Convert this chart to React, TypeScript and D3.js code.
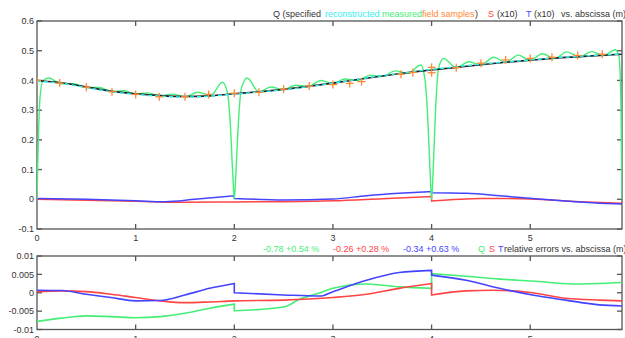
import React from "react";
import * as d3 from "d3";

// ---- top panel data ----
const specX = [0, 0.25, 0.5, 0.75, 1.0, 1.25, 1.5, 1.75, 2.0, 2.25, 2.5, 2.75, 3.0, 3.25, 3.5, 3.75, 4.0, 4.25, 4.5, 4.75, 5.0, 5.25, 5.5, 5.75, 5.93];
const specY = [0.4, 0.392, 0.378, 0.364, 0.355, 0.349, 0.346, 0.348, 0.355, 0.362, 0.37, 0.38, 0.391, 0.403, 0.415, 0.426, 0.435, 0.444, 0.453, 0.461, 0.468, 0.475, 0.48, 0.485, 0.488];
const reconY = [0.397, 0.39, 0.376, 0.362, 0.353, 0.347, 0.344, 0.347, 0.354, 0.361, 0.369, 0.379, 0.391, 0.404, 0.416, 0.427, 0.437, 0.446, 0.455, 0.462, 0.469, 0.476, 0.481, 0.486, 0.489];

const measuredX = [0, 0.01, 0.03, 0.06, 0.12, 0.24, 0.37, 0.5, 0.63, 0.76, 0.88, 1.0, 1.12, 1.25, 1.37, 1.5, 1.63, 1.76, 1.88, 1.93, 1.96, 1.985, 2.0, 2.015, 2.04, 2.07, 2.13, 2.25, 2.37, 2.5, 2.62, 2.75, 2.88, 3.0, 3.12, 3.25, 3.38, 3.5, 3.63, 3.76, 3.89, 3.93, 3.96, 3.985, 4.0, 4.015, 4.04, 4.07, 4.12, 4.25, 4.38, 4.5, 4.63, 4.75, 4.88, 5.0, 5.12, 5.25, 5.37, 5.5, 5.62, 5.75, 5.86, 5.9, 5.92, 5.93];
const measuredY = [0, 0.15, 0.34, 0.4, 0.408, 0.389, 0.389, 0.376, 0.376, 0.362, 0.366, 0.354, 0.358, 0.348, 0.354, 0.345, 0.36, 0.349, 0.394, 0.36, 0.25, 0.08, 0, 0.08, 0.25, 0.37, 0.408, 0.361, 0.378, 0.369, 0.384, 0.38, 0.4, 0.389, 0.405, 0.4, 0.418, 0.413, 0.432, 0.424, 0.452, 0.41, 0.28, 0.09, 0, 0.09, 0.3, 0.44, 0.474, 0.443, 0.463, 0.452, 0.478, 0.461, 0.485, 0.467, 0.49, 0.474, 0.496, 0.479, 0.497, 0.484, 0.503, 0.48, 0.3, 0];

const sampleX = [0, 0.23, 0.5, 0.76, 1.0, 1.24, 1.5, 1.74, 2.0, 2.25, 2.5, 2.76, 3.0, 3.17, 3.29, 3.69, 3.81, 4.0, 4.0, 4.25, 4.5, 4.75, 5.0, 5.22, 5.48, 5.73];
const sampleY = [0.4, 0.391, 0.377, 0.362, 0.353, 0.345, 0.345, 0.353, 0.357, 0.36, 0.371, 0.381, 0.386, 0.39, 0.396, 0.421, 0.427, 0.444, 0.426, 0.443, 0.458, 0.469, 0.474, 0.478, 0.484, 0.488];

// S (x10) and T (x10)
const sTopX = [0, 0.5, 1.0, 1.5, 2.0, 2.5, 3.0, 3.5, 4.0, 4.0, 4.5, 5.0, 5.5, 5.93];
const sTopY = [0, -0.003, -0.007, -0.01, -0.009, -0.008, -0.005, 0.002, 0.009, -0.006, 0.003, 0.001, -0.008, -0.013];
const tTopX = [0, 0.5, 1.0, 1.3, 1.6, 2.0, 2.0, 2.5, 3.0, 3.34, 3.67, 4.0, 4.0, 4.35, 4.69, 5.02, 5.36, 5.7, 5.93];
const tTopY = [0.003, 0.0, -0.005, -0.008, 0.0, 0.012, 0.003, -0.002, 0.001, 0.012, 0.02, 0.026, 0.022, 0.02, 0.012, 0.003, -0.006, -0.013, -0.016];

// ---- bottom panel: relative errors ----
const qErrX = [0, 0.25, 0.5, 0.75, 1.0, 1.25, 1.5, 1.75, 2.0, 2.0, 2.5, 2.66, 2.87, 3.0, 3.34, 3.67, 4.0, 4.0, 4.35, 4.69, 5.02, 5.43, 5.93];
const qErrY = [-0.0078, -0.0069, -0.0063, -0.0065, -0.0068, -0.0065, -0.0056, -0.0042, -0.0031, -0.0049, -0.0039, -0.0018, 0.0, 0.0012, 0.0024, 0.0016, 0.0012, 0.0052, 0.0045, 0.0037, 0.0032, 0.0024, 0.0028];
const sErrX = [0, 0.25, 0.5, 0.75, 1.0, 1.25, 1.5, 1.75, 2.0, 2.5, 3.0, 3.34, 3.67, 4.0, 4.0, 4.35, 4.62, 5.02, 5.36, 5.7, 5.93];
const sErrY = [0.0003, 0.0005, 0.0003, -0.0004, -0.0013, -0.0022, -0.0027, -0.0025, -0.0022, -0.002, -0.0013, -0.0004, 0.0012, 0.0025, -0.0006, 0.0005, 0.0007, 0.0, -0.0015, -0.002, -0.0022];
const tErrX = [0, 0.25, 0.5, 0.75, 1.0, 1.25, 1.5, 1.75, 2.0, 2.0, 2.5, 2.87, 3.0, 3.34, 3.67, 4.0, 4.0, 4.35, 4.69, 5.02, 5.36, 5.7, 5.93];
const tErrY = [0.0007, 0.0006, -0.0004, -0.0013, -0.0022, -0.0021, -0.0006, 0.0012, 0.0025, 0.0, -0.0006, -0.0009, 0.0003, 0.0034, 0.0055, 0.0061, 0.0048, 0.0034, 0.0012, -0.0006, -0.002, -0.0033, -0.0036];

const xTicks = [0, 1, 2, 3, 4, 5];
const topYTicks = [-0.1, 0, 0.1, 0.2, 0.3, 0.4, 0.5, 0.6];
const topYLabels = ["-0.1", "0", "0.1", "0.2", "0.3", "0.4", "0.5", "0.6"];
const botYTicks = [-0.01, -0.005, 0, 0.005, 0.01];
const botYLabels = ["-0.01", "-0.005", "0", "0.005", "0.01"];

const C = {
  frame: "#555",
  text: "#333",
  cyan: "#33eeee",
  green: "#44ee77",
  orange: "#ff8833",
  red: "#ff4444",
  blue: "#4444ff",
};
const FONT = "'Liberation Sans', Arial, sans-serif";

const L = 37, R = 622;
const x = d3.scaleLinear().domain([0, 5.93]).range([L, R]);
const yTop = d3.scaleLinear().domain([-0.1, 0.6]).range([229, 21]);
const yBot = d3.scaleLinear().domain([-0.01, 0.01]).range([329.5, 256]);

// builds a path that may contain vertical jumps (repeated x values)
function jumpPath(xs: number[], ys: number[], y: d3.ScaleLinear<number, number>) {
  const segs: [number, number][][] = [[]];
  xs.forEach((v, i) => {
    if (i > 0 && v === xs[i - 1]) segs.push([]);
    segs[segs.length - 1].push([v, ys[i]]);
  });
  const line = d3.line<[number, number]>()
    .x(d => x(d[0]))
    .y(d => y(d[1]))
    .curve(d3.curveMonotoneX);
  return segs.map((s, i) => {
    const p = line(s) || "";
    return i === 0 ? p : p.replace(/^M/, "L");
  }).join("");
}

function Frame({ y, top, bottom, ticks, labels }: any) {
  return (
    <g>
      <rect x={L} y={top} width={R - L} height={bottom - top} fill="none" stroke={C.frame} strokeWidth={1.3} />
      {xTicks.slice(1).map(t => (
        <g key={t}>
          <line x1={x(t)} x2={x(t)} y1={top} y2={top + 5} stroke={C.frame} strokeWidth={1.3} />
          <line x1={x(t)} x2={x(t)} y1={bottom} y2={bottom - 5} stroke={C.frame} strokeWidth={1.3} />
        </g>
      ))}
      {ticks.map((t: number, i: number) => (
        <g key={i}>
          <line x1={L} x2={L + 5} y1={y(t)} y2={y(t)} stroke={C.frame} strokeWidth={1.3} />
          <line x1={R} x2={R - 5} y1={y(t)} y2={y(t)} stroke={C.frame} strokeWidth={1.3} />
          <text x={34} y={y(t)} dy="0.35em" textAnchor="end" fontSize={9} fill={C.text} fontFamily={FONT}>{labels[i]}</text>
        </g>
      ))}
      {xTicks.map(t => (
        <text key={t} x={x(t)} y={bottom + 12} textAnchor="middle" fontSize={9} fill={C.text} fontFamily={FONT}>{t}</text>
      ))}
    </g>
  );
}

export default function App() {
  const specLine = d3.line<number>().x((_, i) => x(specX[i])).y(d => yTop(d)).curve(d3.curveMonotoneX);
  const measLine = d3.line<number>().x((_, i) => x(measuredX[i])).y(d => yTop(d)).curve(d3.curveMonotoneX);
  const t = { fontSize: 9, fontFamily: FONT };
  return (
    <svg width={625} height={338} style={{ position: "fixed", left: 0, top: 0, background: "#fff" }}>
      <defs>
        <clipPath id="cTop"><rect x={L} y={21} width={R - L} height={208} /></clipPath>
        <clipPath id="cBot"><rect x={L} y={256} width={R - L} height={73.5} /></clipPath>
      </defs>

      {/* titles */}
      <text y={17} {...t} fill={C.text}>
        <tspan x={273}>Q (specified</tspan>
        <tspan x={325} fill={C.cyan}>reconstructed</tspan>
        <tspan x={382} fill={C.green}>measured</tspan>
        <tspan x={422} fill={C.orange}>field samples</tspan>
        <tspan x={475}>)</tspan>
        <tspan x={488} fill={C.red}>S</tspan>
        <tspan x={497}>(x10)</tspan>
        <tspan x={526} fill={C.blue}>T</tspan>
        <tspan x={534}>(x10)</tspan>
        <tspan x={561}>vs. abscissa (m)</tspan>
      </text>
      <text y={252} {...t} fill={C.text}>
        <tspan x={263} fill={C.green}>-0.78 +0.54  %</tspan>
        <tspan x={333} fill={C.red}>-0.26 +0.28  %</tspan>
        <tspan x={403} fill={C.blue}>-0.34 +0.63  %</tspan>
        <tspan x={478} fill={C.green}>Q</tspan>
        <tspan x={489} fill={C.red}>S</tspan>
        <tspan x={498} fill={C.blue}>T</tspan>
        <tspan x={504}>relative errors vs. abscissa (m)</tspan>
      </text>

      <Frame y={yTop} top={21} bottom={229} ticks={topYTicks} labels={topYLabels} />
      <Frame y={yBot} top={256} bottom={329.5} ticks={botYTicks} labels={botYLabels} />

      <g clipPath="url(#cTop)" fill="none">
        <path d={jumpPath(sTopX, sTopY, yTop)} stroke={C.red} strokeWidth={1.5} />
        <path d={jumpPath(tTopX, tTopY, yTop)} stroke={C.blue} strokeWidth={1.5} />
        <path d={measLine(measuredY) || ""} stroke={C.green} strokeWidth={1.4} />
        <path d={specLine(specY) || ""} stroke="#222" strokeWidth={1.6} />
        <path d={specLine(reconY) || ""} stroke={C.cyan} strokeWidth={1.5} strokeDasharray="4,3" />
        {sampleX.map((sx, i) => (
          <g key={i} stroke={C.orange} strokeWidth={1.3}>
            <line x1={x(sx) - 4} x2={x(sx) + 4} y1={yTop(sampleY[i])} y2={yTop(sampleY[i])} />
            <line x1={x(sx)} x2={x(sx)} y1={yTop(sampleY[i]) - 4} y2={yTop(sampleY[i]) + 4} />
          </g>
        ))}
      </g>

      <g clipPath="url(#cBot)" fill="none">
        <path d={jumpPath(qErrX, qErrY, yBot)} stroke={C.green} strokeWidth={1.6} />
        <path d={jumpPath(sErrX, sErrY, yBot)} stroke={C.red} strokeWidth={1.6} />
        <path d={jumpPath(tErrX, tErrY, yBot)} stroke={C.blue} strokeWidth={1.6} />
      </g>
    </svg>
  );
}
